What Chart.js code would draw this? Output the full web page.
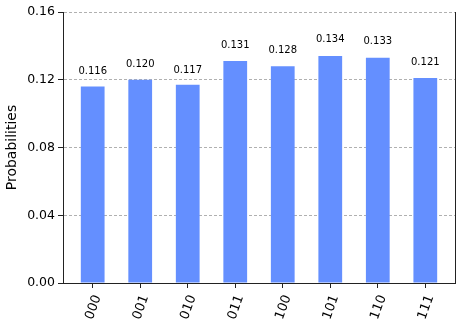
<!DOCTYPE html>
<html>
<head>
<meta charset="utf-8">
<script src="https://cdn.jsdelivr.net/npm/chart.js@4/dist/chart.umd.min.js"></script>
<style>
  body { margin: 0; background: #fff; }
  #hist { display: block; }
</style>
</head>
<body>
<canvas id="hist" width="461" height="327"></canvas>
<script>
// measured states and probabilities
const states = ['000', '001', '010', '011', '100', '101', '110', '111'];
const probs = [0.116, 0.120, 0.117, 0.131, 0.128, 0.134, 0.133, 0.121];
const yTicks = [0, 0.04, 0.08, 0.12, 0.16];

const barColor = '#648fff';
const axisColor = '#222222';

// value labels above each bar, placed at 1.05 * height like the original
const valueLabels = {
    id: 'valueLabels',
    afterDatasetsDraw(chart) {
        const ctx = chart.ctx;
        const yScale = chart.scales.y;
        const meta = chart.getDatasetMeta(0);
        ctx.save();
        ctx.font = '10px "DejaVu Sans"';
        ctx.fillStyle = '#000';
        ctx.textAlign = 'center';
        ctx.textBaseline = 'bottom';
        meta.data.forEach((bar, i) => {
            ctx.fillText(probs[i].toFixed(3), bar.x, yScale.getPixelForValue(probs[i] * 1.05));
        });
        ctx.restore();
    }
};

// right spine
const rightSpine = {
    id: 'rightSpine',
    afterDraw(chart) {
        const { ctx, chartArea } = chart;
        ctx.save();
        ctx.strokeStyle = axisColor;
        ctx.lineWidth = 1;
        ctx.beginPath();
        ctx.moveTo(chartArea.right + 0.5, chartArea.top);
        ctx.lineTo(chartArea.right + 0.5, chartArea.bottom);
        ctx.stroke();
        ctx.restore();
    }
};

const ctx = document.getElementById('hist').getContext('2d');
new Chart(ctx, {
    type: 'bar',
    data: {
        datasets: [{
            data: probs.map((p, i) => ({ x: i, y: p })),
            backgroundColor: barColor,
            borderWidth: 0,
            barPercentage: 0.5,
            categoryPercentage: 1
        }]
    },
    options: {
        responsive: false,
        animation: false,
        layout: { padding: { top: 12, right: 6, left: 0, bottom: 0 } },
        plugins: {
            legend: { display: false },
            tooltip: { enabled: false }
        },
        scales: {
            x: {
                type: 'linear',
                min: -0.625,
                max: 7.625,
                offset: false,
                afterFit(scale) { scale.height = 44; },
                afterBuildTicks(scale) {
                    scale.ticks = states.map((s, i) => ({ value: i }));
                },
                ticks: {
                    autoSkip: false,
                    minRotation: 70,
                    maxRotation: 70,
                    labelOffset: 5,
                    padding: 5,
                    color: '#000',
                    font: { family: 'DejaVu Sans', size: 13 },
                    callback: (v) => states[v] ?? ''
                },
                grid: {
                    offset: false,
                    drawOnChartArea: false,
                    drawTicks: true,
                    tickLength: 5,
                    tickColor: axisColor,
                    tickWidth: 1
                },
                border: { display: true, color: axisColor, width: 1 }
            },
            y: {
                min: 0,
                max: 0.16,
                afterFit(scale) { scale.width = 63; },
                afterBuildTicks(scale) {
                    scale.ticks = yTicks.map(v => ({ value: v }));
                },
                ticks: {
                    padding: 3,
                    color: '#000',
                    font: { family: 'DejaVu Sans', size: 12.5 },
                    callback: (v) => v.toFixed(2)
                },
                grid: {
                    color: '#b0b0b0',
                    lineWidth: 1,
                    tickLength: 5,
                    tickColor: axisColor,
                    tickBorderDash: []
                },
                border: { display: true, color: axisColor, width: 1, dash: [3, 2] },
                title: {
                    display: true,
                    text: 'Probabilities',
                    color: '#000',
                    font: { family: 'DejaVu Sans', size: 14 },
                    padding: 4
                }
            }
        }
    },
    plugins: [valueLabels, rightSpine]
});
</script>
</body>
</html>
